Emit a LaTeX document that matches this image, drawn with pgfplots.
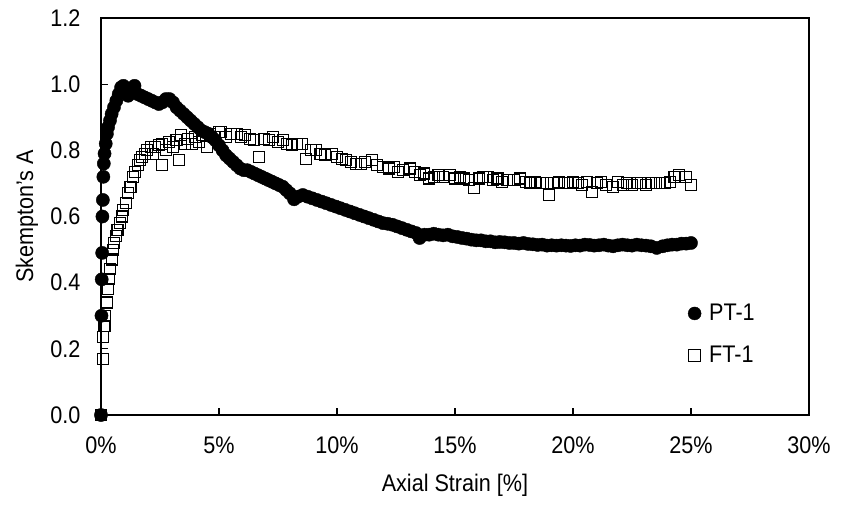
\documentclass[border=0pt]{standalone}
\usepackage{fontspec}
\setmainfont{Liberation Sans}[FakeStretch=0.9]
\usepackage{pgfplots}
\pgfplotsset{compat=1.18}
\newcommand{\bigf}{\fontsize{24}{28}\selectfont}
\begin{document}
\begin{tikzpicture}[font=\bigf]
\useasboundingbox (-101pt,-89pt) rectangle (745pt,415pt);
\begin{axis}[
  at={(0,0)}, anchor=south west,
  scale only axis, width=708pt, height=397pt,
  xmin=0, xmax=30, ymin=0, ymax=1.2,
  xtick={0,5,...,30}, ytick={0,0.2,...,1.2},
  xticklabel={\pgfmathprintnumber{\tick}\%},
  tick label style={font=\bigf},
  label style={font=\bigf},
  yticklabel style={/pgf/number format/fixed, /pgf/number format/precision=1, /pgf/number format/fixed zerofill, xshift=-17pt},
  xticklabel style={yshift=-18pt},
  /pgf/number format/assume math mode=true,
  tick align=inside, xtick pos=bottom, ytick pos=left,
  major tick length=7pt,
  axis line style={line width=1.3pt}, every tick/.style={line width=1.2pt, black},
  xlabel={Axial Strain [\%]}, ylabel={Skempton's A},
  xlabel style={at={(axis description cs:0.5,0)}, anchor=center, yshift=-70pt},
  ylabel style={at={(axis description cs:-0.1045,0.5)}, anchor=center},
  clip=false,
  legend style={at={(0.829,0.284)}, anchor=north west, draw=none, fill=none, inner sep=0pt, row sep=20pt, font=\bigf, nodes={inner xsep=8pt}},
  legend cell align=left,
]
\addplot[only marks, mark=*, mark size=6.6pt, black, mark options={fill=black}, legend image post style={mark size=6.5pt}] coordinates {
(0,0)(0.02,0.30)(0.03,0.41)(0.05,0.49)(0.06,0.60)(0.08,0.65)(0.1,0.72)(0.12,0.76)(0.15,0.79)(0.2,0.82)(0.25,0.85)(0.3,0.87)(0.38,0.89)(0.45,0.91)(0.55,0.93)(0.65,0.95)(0.75,0.97)(0.85,0.99)(0.95,0.995)(1.05,0.975)(1.15,0.965)(1.3,0.985)(1.42,0.995)(1.55,0.97)(1.7,0.965)(1.85,0.96)(2.0,0.955)(2.15,0.95)(2.3,0.945)(2.45,0.94)(2.6,0.945)(2.75,0.955)(2.9,0.955)(3.05,0.945)(3.2,0.93)(3.35,0.92)(3.5,0.91)(3.65,0.90)(3.8,0.89)(3.95,0.88)(4.1,0.87)(4.25,0.86)(4.4,0.855)(4.55,0.85)(4.7,0.84)(4.85,0.83)(5.0,0.815)(5.15,0.80)(5.3,0.785)(5.45,0.775)(5.6,0.765)(5.75,0.755)(5.9,0.745)(6.05,0.74)(6.2,0.74)(6.35,0.735)(6.5,0.73)(6.65,0.725)(6.8,0.72)(6.95,0.715)(7.1,0.71)(7.25,0.705)(7.4,0.70)(7.55,0.695)(7.7,0.69)(7.85,0.68)(8.0,0.67)(8.18,0.652)(8.35,0.66)(8.55,0.665)(8.75,0.66)(8.95,0.655)(9.15,0.65)(9.35,0.645)(9.55,0.64)(9.75,0.635)(9.95,0.63)(10.15,0.625)(10.35,0.62)(10.55,0.615)(10.75,0.61)(10.95,0.605)(11.15,0.60)(11.35,0.595)(11.55,0.59)(11.75,0.585)(11.95,0.58)(12.15,0.578)(12.35,0.575)(12.55,0.57)(12.75,0.565)(12.95,0.56)(13.15,0.555)(13.35,0.55)(13.5,0.535)(13.7,0.545)(13.9,0.545)(14.1,0.548)(14.3,0.545)(14.5,0.543)(14.7,0.545)(14.9,0.54)(15.1,0.538)(15.3,0.535)(15.5,0.533)(15.7,0.53)(15.9,0.528)(16.1,0.528)(16.3,0.525)(16.5,0.525)(16.7,0.522)(16.9,0.523)(17.1,0.522)(17.3,0.52)(17.5,0.52)(17.7,0.518)(17.9,0.52)(18.1,0.517)(18.3,0.516)(18.5,0.514)(18.7,0.515)(18.9,0.512)(19.1,0.513)(19.3,0.512)(19.5,0.513)(19.7,0.512)(19.9,0.511)(20.1,0.513)(20.3,0.512)(20.5,0.515)(20.7,0.514)(20.9,0.512)(21.1,0.513)(21.3,0.515)(21.5,0.512)(21.7,0.51)(21.9,0.513)(22.1,0.515)(22.3,0.513)(22.5,0.512)(22.7,0.515)(22.9,0.513)(23.1,0.512)(23.3,0.51)(23.55,0.505)(23.8,0.51)(24.0,0.513)(24.2,0.515)(24.4,0.515)(24.6,0.518)(24.8,0.518)(25.0,0.52)
};
\addlegendentry{PT-1}
\addplot[only marks, mark=square, mark size=5.5pt, black, mark options={line width=1.1pt, fill=none}, legend image post style={mark size=6pt}] coordinates {
(0,0)(0.1,0.17)(0.1,0.235)(0.15,0.27)(0.18,0.30)(0.25,0.34)(0.3,0.38)(0.35,0.41)(0.4,0.44)(0.45,0.47)(0.5,0.50)(0.55,0.52)(0.62,0.54)(0.7,0.56)(0.8,0.58)(0.9,0.60)(0.95,0.62)(1.05,0.64)(1.15,0.67)(1.25,0.69)(1.35,0.72)(1.45,0.735)(1.55,0.755)(1.65,0.77)(1.75,0.78)(1.85,0.79)(1.95,0.80)(2.1,0.81)(2.2,0.79)(2.3,0.81)(2.45,0.815)(2.6,0.755)(2.6,0.82)(2.75,0.80)(2.9,0.825)(3.05,0.81)(3.2,0.83)(3.3,0.77)(3.4,0.845)(3.55,0.82)(3.7,0.835)(3.85,0.82)(4.0,0.84)(4.15,0.825)(4.3,0.845)(4.5,0.81)(4.6,0.85)(4.8,0.84)(5.0,0.855)(5.1,0.855)(5.3,0.84)(5.5,0.85)(5.75,0.85)(5.95,0.84)(6.1,0.845)(6.3,0.835)(6.5,0.83)(6.7,0.78)(6.9,0.835)(7.1,0.83)(7.3,0.84)(7.5,0.825)(7.7,0.83)(7.9,0.82)(8.1,0.815)(8.3,0.82)(8.5,0.82)(8.7,0.775)(8.9,0.80)(9.1,0.80)(9.3,0.79)(9.5,0.785)(9.8,0.79)(10.0,0.78)(10.2,0.775)(10.4,0.77)(10.6,0.765)(10.8,0.76)(11.0,0.76)(11.2,0.765)(11.5,0.77)(11.7,0.755)(11.95,0.75)(12.2,0.745)(12.4,0.75)(12.6,0.735)(12.8,0.74)(13.1,0.745)(13.3,0.735)(13.5,0.725)(13.7,0.73)(13.9,0.715)(14.1,0.72)(14.3,0.725)(14.5,0.72)(14.8,0.725)(15.0,0.715)(15.2,0.72)(15.4,0.715)(15.6,0.71)(15.8,0.685)(16.0,0.715)(16.2,0.72)(16.4,0.72)(16.6,0.71)(16.8,0.715)(17.0,0.705)(17.2,0.71)(17.5,0.71)(17.75,0.715)(18.0,0.705)(18.2,0.70)(18.4,0.705)(18.6,0.70)(18.9,0.70)(19.0,0.665)(19.2,0.70)(19.4,0.705)(19.6,0.70)(19.8,0.70)(20.0,0.705)(20.2,0.70)(20.4,0.695)(20.6,0.705)(20.8,0.675)(21.0,0.70)(21.2,0.705)(21.4,0.695)(21.7,0.69)(21.9,0.705)(22.1,0.695)(22.3,0.70)(22.5,0.695)(22.7,0.70)(22.9,0.70)(23.1,0.695)(23.3,0.70)(23.5,0.70)(23.7,0.70)(23.9,0.70)(24.1,0.705)(24.3,0.72)(24.5,0.725)(24.8,0.72)(25.0,0.695)
};
\addlegendentry{FT-1}
\end{axis}
\end{tikzpicture}
\end{document}
